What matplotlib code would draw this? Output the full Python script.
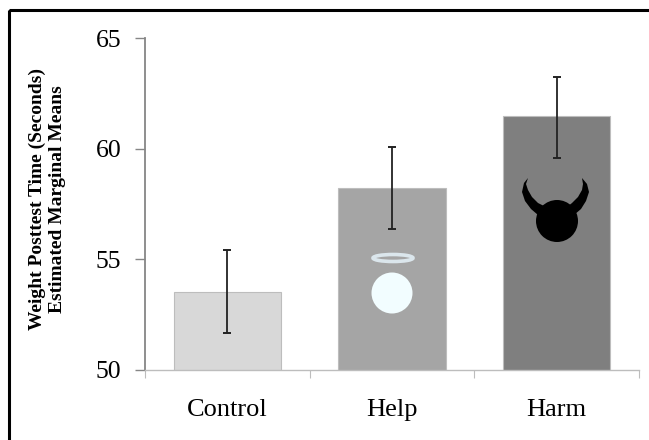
import numpy as np
import matplotlib
matplotlib.use('Agg')
import matplotlib.pyplot as plt
from matplotlib.patches import Circle, Ellipse, Polygon, Rectangle

categories = ['Control', 'Help', 'Harm']
means = [53.5, 58.2, 61.45]
err_low = [1.85, 1.85, 1.9]
err_high = [1.9, 1.85, 1.8]
bar_colors = ['#d8d8d8', '#a5a5a5', '#7f7f7f']
y_ticks = [50, 55, 60, 65]

W, H = 649, 440
plt.rcParams['font.family'] = ['Liberation Serif', 'DejaVu Serif']

fig = plt.figure(figsize=(W/100, H/100), dpi=100)

# page frame, in pixels
bg = fig.add_axes([0, 0, 1, 1])
bg.set_xlim(0, W)
bg.set_ylim(H, 0)
bg.axis('off')
bg.add_patch(Rectangle((9, 10), W+20, H+20, fill=False, ec='black', lw=2.2))
bg.set_zorder(3)

ax = fig.add_axes([145/W, 1-369.5/H, (639-145)/W, (369.5-38)/H])
ax.patch.set_alpha(0)
x = np.arange(len(categories))
ax.bar(x, means, width=0.65, color=bar_colors, edgecolor='#bdbdbd', linewidth=0.8)
ax.errorbar(x, means, yerr=[err_low, err_high], fmt='none', ecolor='#222222',
            elinewidth=1.3, capsize=2.6, capthick=1.4)
ax.set_xlim(-0.5, 2.5)
ax.set_ylim(50, 65)
ax.set_yticks(y_ticks)
ax.set_xticks(x)
ax.set_xticklabels(categories)
ax.tick_params(axis='y', labelsize=18.5, length=7, width=1, color='#868686', pad=10)
ax.tick_params(axis='x', labelsize=19, length=0, pad=21)
ax.set_xticks([-0.5, 0.5, 1.5, 2.5], minor=True)
ax.tick_params(axis='x', which='minor', length=6, width=0.8, color='#bdbdbd', direction='out')
for s in ['top', 'right']:
    ax.spines[s].set_visible(False)
ax.spines['left'].set_color('#868686')
ax.spines['left'].set_linewidth(1.3)
ax.spines['bottom'].set_color('#bdbdbd')
ax.spines['bottom'].set_linewidth(1)

fig.text(37/W, 1-199/H, 'Weight Posttest Time (Seconds)', rotation=90, fontsize=14,
         fontweight='bold', ha='center', va='center')
fig.text(57/W, 1-199/H, 'Estimated Marginal Means', rotation=90, fontsize=14,
         fontweight='bold', ha='center', va='center')

# halo and head on the Help bar
bg.add_patch(Ellipse((393, 258), 40, 7, fill=False, ec='#dbe6ec', lw=2.6))
bg.add_patch(Circle((392, 293), 20.5, fc='#f2fdff', ec='none'))

# horned head on the Harm bar
bg.add_patch(Circle((557, 221), 21, fc='black', ec='none'))
left_horn = [(528, 178), (524, 183), (522, 192), (525, 201), (531, 209), (538, 215), (544, 219),
             (546, 207), (538, 203), (532, 197), (528, 190), (526, 184)]
bg.add_patch(Polygon(left_horn, fc='black', ec='none'))
right_horn = [(582, 178), (587, 184), (589, 192), (586, 201), (581, 209), (574, 215), (569, 219),
              (567, 207), (572, 203), (578, 197), (582, 190), (583, 184)]
bg.add_patch(Polygon(right_horn, fc='black', ec='none'))

fig.savefig('out.png', dpi=100)
